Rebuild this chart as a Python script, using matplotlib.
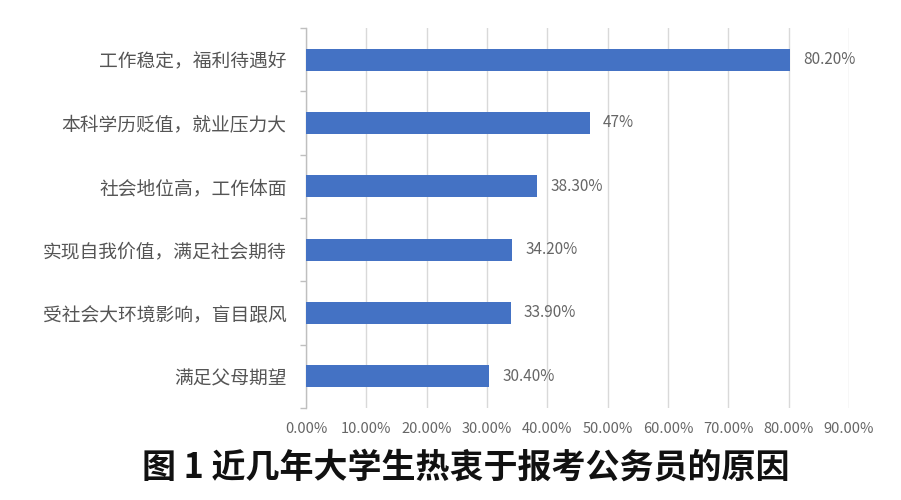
import matplotlib
matplotlib.use("Agg")
import matplotlib.pyplot as plt
from matplotlib.ticker import FixedLocator

plt.rcParams['font.family'] = ['Noto Sans CJK SC', 'DejaVu Sans']

categories = ["工作稳定，福利待遇好", "本科学历贬值，就业压力大", "社会地位高，工作体面",
              "实现自我价值，满足社会期待", "受社会大环境影响，盲目跟风", "满足父母期望"]
values = [80.2, 47, 38.3, 34.2, 33.9, 30.4]
value_labels = ["80.20%", "47%", "38.30%", "34.20%", "33.90%", "30.40%"]
xticks = [0, 10, 20, 30, 40, 50, 60, 70, 80, 90]
xtick_labels = ["0.00%", "10.00%", "20.00%", "30.00%", "40.00%", "50.00%",
                "60.00%", "70.00%", "80.00%", "90.00%"]
title = "图 1 近几年大学生热衷于报考公务员的原因"

W, H = 901, 500
fig = plt.figure(figsize=(W / 100, H / 100), dpi=100)
ax = fig.add_axes([306 / W, 1 - 408 / H, (849 - 306) / W, (408 - 28) / H])

ypos = list(range(len(categories)))
ax.barh(ypos, values, height=0.35, color="#4472C4", zorder=3)
ax.set_ylim(len(categories) - 0.5, -0.5)
ax.set_xlim(0, 90)

ax.set_xticks(xticks)
ax.set_xticklabels(xtick_labels, fontsize=10.5, color="#666666")
ax.tick_params(axis='x', length=0, pad=10)
ax.set_yticks(ypos)
ax.set_yticklabels(categories, fontsize=13.5, color="#555555")
ax.tick_params(axis='y', length=0, pad=14)
ax.yaxis.set_minor_locator(FixedLocator([i + 0.5 for i in range(-1, len(categories))]))
ax.tick_params(axis='y', which='minor', length=4, color="#bfbfbf", width=1)

ax.grid(axis='x', color="#d9d9d9", linewidth=1, zorder=0)
for s in ["top", "right", "bottom"]:
    ax.spines[s].set_visible(False)
ax.spines["left"].set_color("#bfbfbf")
ax.spines["left"].set_linewidth(1)

for y, v, lab in zip(ypos, values, value_labels):
    ax.text(v + 2.2, y, lab, va='center', ha='left', fontsize=11, color="#666666")

fig.text(466 / W, 1 - 467 / H, title, ha='center', va='center', fontsize=24.5,
         fontweight='bold', color="#111111")

fig.savefig("out.png", dpi=100, facecolor="white")
